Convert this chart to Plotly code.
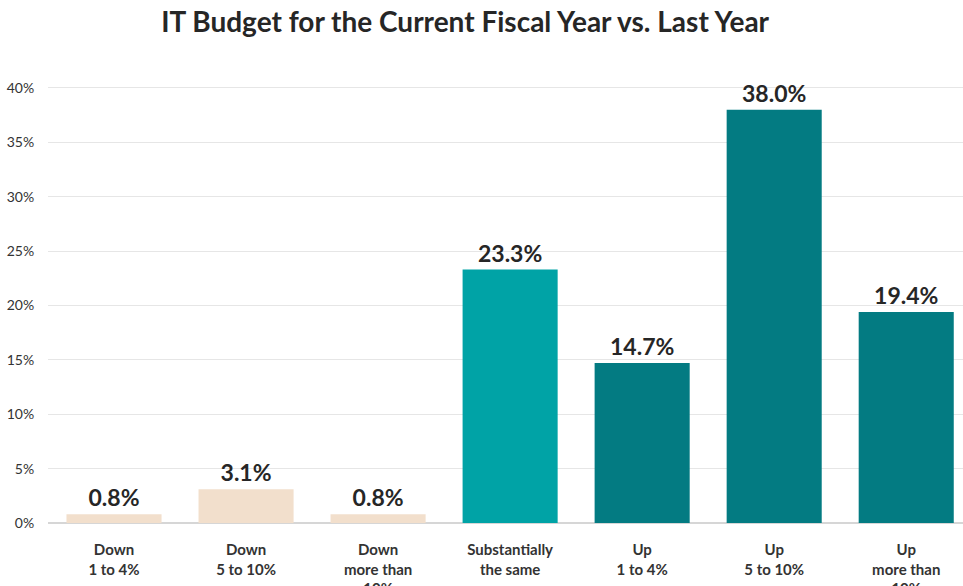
import plotly.graph_objects as go

categories = [
    "Down<br>1 to 4%",
    "Down<br>5 to 10%",
    "Down<br>more than<br>10%",
    "Substantially<br>the same",
    "Up<br>1 to 4%",
    "Up<br>5 to 10%",
    "Up<br>more than<br>10%",
]
values = [0.8, 3.1, 0.8, 23.3, 14.7, 38.0, 19.4]
bar_colors = ["#f2dfcc", "#f2dfcc", "#f2dfcc", "#00a3a6", "#037b82", "#037b82", "#037b82"]
y_ticks = [0, 5, 10, 15, 20, 25, 30, 35, 40]
y_tick_labels = [f"{t}%" for t in y_ticks]

FONT = "Lato, 'Source Sans Pro', sans-serif"

fig = go.Figure(
    go.Bar(
        x=list(range(len(categories))),
        y=values,
        marker=dict(color=bar_colors, line=dict(width=0)),
        text=[f"{v:.1f}%" for v in values],
        textposition="outside",
        cliponaxis=False,
        textfont=dict(family=FONT, size=23, color="#262626", weight="bold"),
        hoverinfo="skip",
    )
)

fig.update_layout(
    width=963,
    height=586,
    margin=dict(l=48, r=0, t=77, b=63, autoexpand=False),
    paper_bgcolor="white",
    plot_bgcolor="white",
    bargap=0.28,
    showlegend=False,
    title=dict(
        text="<b>IT Budget for the Current Fiscal Year vs. Last Year</b>",
        x=0.483,
        xanchor="center",
        y=0.962,
        yanchor="middle",
        font=dict(family=FONT, size=28, color="#262626"),
    ),
    font=dict(family=FONT, color="#333333"),
)

fig.update_xaxes(
    range=[-0.5, 6.43],
    tickmode="array",
    tickvals=list(range(len(categories))),
    ticktext=[f"<b>{c}</b>" for c in categories],
    tickfont=dict(family=FONT, size=15, color="#333333"),
    showgrid=False,
    showline=False,
    ticks="outside",
    ticklen=13,
    tickcolor="rgba(0,0,0,0)",
    zeroline=False,
    automargin=False,
)

fig.update_yaxes(
    range=[0, 41],
    tickmode="array",
    tickvals=y_ticks,
    ticktext=y_tick_labels,
    tickfont=dict(family=FONT, size=14, color="#333333"),
    showgrid=True,
    gridcolor="#e6e6e6",
    gridwidth=1,
    zeroline=True,
    zerolinecolor="#d6d6d6",
    zerolinewidth=1.5,
    ticks="outside",
    ticklen=10,
    tickcolor="rgba(0,0,0,0)",
    automargin=False,
)

fig.write_html("out.html")
